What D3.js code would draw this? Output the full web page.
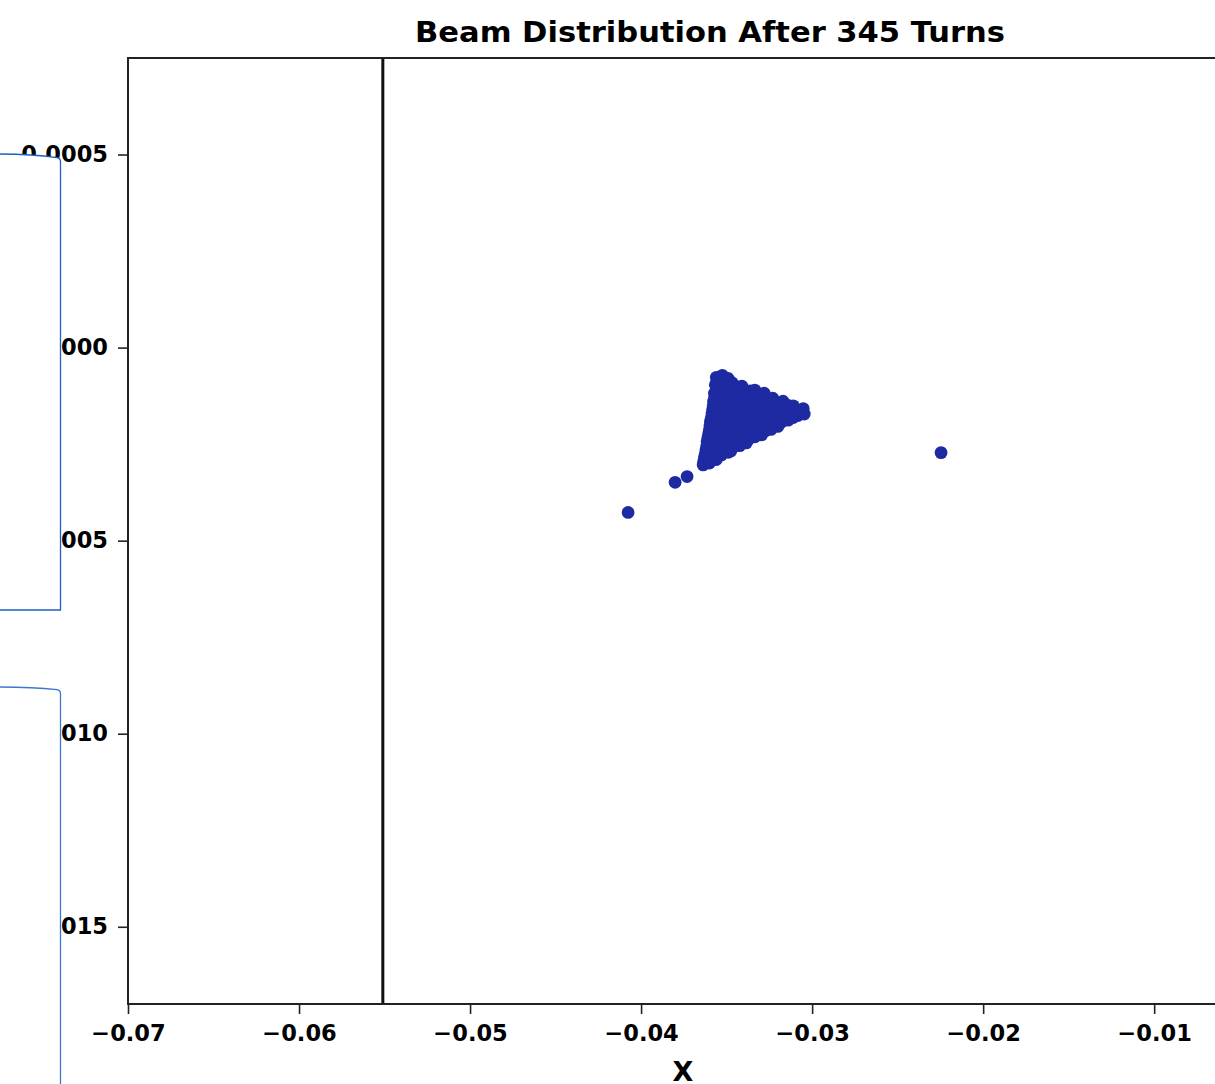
<!DOCTYPE html>
<html>
<head>
<meta charset="utf-8">
<script src="https://cdn.jsdelivr.net/npm/d3@7"></script>
<style>
  body { margin: 0; background: #fff; }
  svg { display: block; }
</style>
</head>
<body>
<svg id="chart" width="1215" height="1084"></svg>
<script>
// ---- data ----
const titleText = "Beam Distribution After 345 Turns";
const xLabelText = "X";

const xTicks = [-0.07, -0.06, -0.05, -0.04, -0.03, -0.02, -0.01];
const xTickLabels = ["−0.07", "−0.06", "−0.05", "−0.04", "−0.03", "−0.02", "−0.01"];
const yTicks = [0.0005, 0.0, -0.0005, -0.0010, -0.0015];
const yTickLabels = ["0.0005", "0.0000", "−0.0005", "−0.0010", "−0.0015"];

const xDomain = [-0.07, -0.002];
const yDomain = [-0.0017, 0.00075];

// aperture / septum position
const apertureX = -0.0551;

// particle coordinates [x, y] after 345 turns
const coreParticles = [
  [-0.03560, -0.0000770], [-0.03525, -0.0000720], [-0.03491, -0.0000800], [-0.03548, -0.0000850],
  [-0.03555, -0.0000870], [-0.03512, -0.0000890], [-0.03468, -0.0000910],
  [-0.03566, -0.0000960], [-0.03521, -0.0000990], [-0.03476, -0.0000950], [-0.03438, -0.0001010], [-0.03410, -0.0001000],
  [-0.03560, -0.0001080], [-0.03505, -0.0001100], [-0.03455, -0.0001070], [-0.03408, -0.0001110], [-0.03362, -0.0001120],
  [-0.03335, -0.0001100],
  [-0.03571, -0.0001180], [-0.03527, -0.0001210], [-0.03480, -0.0001170], [-0.03433, -0.0001200], [-0.03387, -0.0001160],
  [-0.03340, -0.0001230], [-0.03305, -0.0001250], [-0.03280, -0.0001180],
  [-0.03570, -0.0001290], [-0.03505, -0.0001310], [-0.03458, -0.0001280], [-0.03412, -0.0001320], [-0.03366, -0.0001270],
  [-0.03320, -0.0001330], [-0.03275, -0.0001300], [-0.03230, -0.0001310],
  [-0.03576, -0.0001390], [-0.03531, -0.0001420], [-0.03484, -0.0001380], [-0.03437, -0.0001410], [-0.03391, -0.0001370],
  [-0.03344, -0.0001430], [-0.03298, -0.0001400], [-0.03252, -0.0001440], [-0.03218, -0.0001460], [-0.03170, -0.0001390],
  [-0.03578, -0.0001500], [-0.03508, -0.0001520], [-0.03462, -0.0001490], [-0.03415, -0.0001510], [-0.03369, -0.0001480],
  [-0.03322, -0.0001530], [-0.03276, -0.0001500], [-0.03229, -0.0001520], [-0.03183, -0.0001490], [-0.03140, -0.0001500],
  [-0.03110, -0.0001510],
  [-0.03581, -0.0001600], [-0.03534, -0.0001630], [-0.03487, -0.0001590], [-0.03441, -0.0001620], [-0.03394, -0.0001580],
  [-0.03347, -0.0001610], [-0.03301, -0.0001590], [-0.03255, -0.0001630], [-0.03208, -0.0001600], [-0.03161, -0.0001640],
  [-0.03117, -0.0001620], [-0.03075, -0.0001650], [-0.03052, -0.0001580],
  [-0.03585, -0.0001700], [-0.03512, -0.0001720], [-0.03465, -0.0001690], [-0.03418, -0.0001710], [-0.03372, -0.0001680],
  [-0.03325, -0.0001720], [-0.03278, -0.0001700], [-0.03232, -0.0001680], [-0.03186, -0.0001710], [-0.03140, -0.0001690],
  [-0.03098, -0.0001700],
  [-0.03589, -0.0001810], [-0.03539, -0.0001780], [-0.03493, -0.0001820], [-0.03446, -0.0001790], [-0.03399, -0.0001830],
  [-0.03352, -0.0001800], [-0.03306, -0.0001820], [-0.03259, -0.0001790], [-0.03212, -0.0001810], [-0.03166, -0.0001770],
  [-0.03120, -0.0001790], [-0.03083, -0.0001760], [-0.03046, -0.0001720],
  [-0.03594, -0.0001910], [-0.03516, -0.0001930], [-0.03470, -0.0001900], [-0.03423, -0.0001920], [-0.03377, -0.0001890],
  [-0.03330, -0.0001930], [-0.03284, -0.0001900], [-0.03238, -0.0001880], [-0.03195, -0.0001870], [-0.03160, -0.0001850],
  [-0.03110, -0.0001810],
  [-0.03597, -0.0002020], [-0.03545, -0.0001990], [-0.03498, -0.0002030], [-0.03451, -0.0002000], [-0.03405, -0.0002040],
  [-0.03358, -0.0002010], [-0.03311, -0.0002000], [-0.03265, -0.0001970], [-0.03220, -0.0001950], [-0.03180, -0.0001930],
  [-0.03140, -0.0001880],
  [-0.03600, -0.0002120], [-0.03520, -0.0002140], [-0.03474, -0.0002110], [-0.03428, -0.0002130], [-0.03381, -0.0002100],
  [-0.03335, -0.0002130], [-0.03288, -0.0002090], [-0.03242, -0.0002070], [-0.03200, -0.0002040],
  [-0.03604, -0.0002220], [-0.03550, -0.0002250], [-0.03503, -0.0002210], [-0.03457, -0.0002240], [-0.03410, -0.0002200],
  [-0.03364, -0.0002230], [-0.03318, -0.0002180], [-0.03272, -0.0002150], [-0.03240, -0.0002120],
  [-0.03609, -0.0002330], [-0.03525, -0.0002350], [-0.03478, -0.0002320], [-0.03432, -0.0002340], [-0.03386, -0.0002310],
  [-0.03340, -0.0002300], [-0.03295, -0.0002260],
  [-0.03614, -0.0002430], [-0.03556, -0.0002460], [-0.03509, -0.0002420], [-0.03462, -0.0002450], [-0.03416, -0.0002400],
  [-0.03372, -0.0002380], [-0.03335, -0.0002310],
  [-0.03616, -0.0002540], [-0.03580, -0.0002560], [-0.03532, -0.0002550], [-0.03485, -0.0002520], [-0.03440, -0.0002530],
  [-0.03385, -0.0002470],
  [-0.03620, -0.0002640], [-0.03561, -0.0002670], [-0.03515, -0.0002620], [-0.03468, -0.0002600], [-0.03423, -0.0002540],
  [-0.03625, -0.0002750], [-0.03590, -0.0002760], [-0.03540, -0.0002740], [-0.03490, -0.0002710], [-0.03475, -0.0002680],
  [-0.03630, -0.0002850], [-0.03575, -0.0002830], [-0.03530, -0.0002780],
  [-0.03634, -0.0002950], [-0.03590, -0.0002930], [-0.03560, -0.0002900],
  [-0.03637, -0.0003040], [-0.03600, -0.0002990]
];
const haloParticles = [
  [-0.03731, -0.000334], [-0.03801, -0.000349], [-0.04076, -0.000427], [-0.02246, -0.000272]
];

// ---- layout ----
const svg = d3.select("#chart");
const plot = { left: 128, top: 58, bottom: 1004, right: 1291 };
const font = "'DejaVu Sans', Verdana, sans-serif";
const dotColor = "#1e2aa1";

svg.append("rect").attr("width", 1215).attr("height", 1084).attr("fill", "#fff");

const x = d3.scaleLinear().domain(xDomain).range([plot.left, plot.right]);
const y = d3.scaleLinear().domain(yDomain).range([plot.bottom, plot.top]);

// particles
const dots = svg.append("g").attr("fill", dotColor);
dots.selectAll("circle.core")
  .data(coreParticles)
  .join("circle")
  .attr("class", "core")
  .attr("cx", d => x(d[0]))
  .attr("cy", d => y(d[1]))
  .attr("r", 6.4);
dots.selectAll("circle.halo")
  .data(haloParticles)
  .join("circle")
  .attr("class", "halo")
  .attr("cx", d => x(d[0]))
  .attr("cy", d => y(d[1]))
  .attr("r", 6.4);

// aperture line
svg.append("line")
  .attr("x1", x(apertureX)).attr("x2", x(apertureX))
  .attr("y1", plot.top).attr("y2", plot.bottom)
  .attr("stroke", "#111").attr("stroke-width", 3);

// axes
const xAxis = d3.axisBottom(x)
  .tickValues(xTicks)
  .tickFormat((d, i) => xTickLabels[i])
  .tickSize(10)
  .tickPadding(11);
const yAxis = d3.axisLeft(y)
  .tickValues(yTicks)
  .tickFormat((d, i) => yTickLabels[i])
  .tickSize(10)
  .tickPadding(10);

const gx = svg.append("g").attr("transform", `translate(0,${plot.bottom})`).call(xAxis);
const gy = svg.append("g").attr("transform", `translate(${plot.left},0)`).call(yAxis);
[gx, gy].forEach(g => {
  g.select(".domain").remove();
  g.selectAll(".tick line").attr("stroke", "#222").attr("stroke-width", 1.6);
  g.selectAll(".tick text")
    .attr("fill", "#000")
    .style("font-family", font)
    .style("font-weight", "bold")
    .style("font-size", "22.5px");
});

// spines
const frame = svg.append("g").attr("fill", "none").attr("stroke", "#222").attr("stroke-width", 2);
frame.append("rect")
  .attr("x", plot.left).attr("y", plot.top)
  .attr("width", plot.right - plot.left).attr("height", plot.bottom - plot.top);

// title and axis label
svg.append("text")
  .attr("x", 710).attr("y", 42)
  .attr("text-anchor", "middle")
  .attr("textLength", 590).attr("lengthAdjust", "spacingAndGlyphs")
  .style("font-family", font).style("font-weight", "bold").style("font-size", "29px")
  .text(titleText);

svg.append("text")
  .attr("x", 683).attr("y", 1081)
  .attr("text-anchor", "middle")
  .style("font-family", font).style("font-weight", "bold").style("font-size", "27px")
  .text(xLabelText);

// callout panels along the left margin
const panelStroke = "#1f5fbf";
svg.append("path")
  .attr("d", "M -2,154 C 20,154 42,155.5 57,157.6 Q 60.5,158.2 60.5,162 L 60.5,610 L -2,610 Z")
  .attr("fill", "#fff").attr("stroke", panelStroke).attr("stroke-width", 1.3);
svg.append("path")
  .attr("d", "M -2,687 C 20,687 42,688 57,689.6 Q 60.5,690.2 60.5,694 L 60.5,1095 L -2,1095 Z")
  .attr("fill", "#fff").attr("stroke", "#3d78cc").attr("stroke-width", 1.3);
</script>
</body>
</html>
